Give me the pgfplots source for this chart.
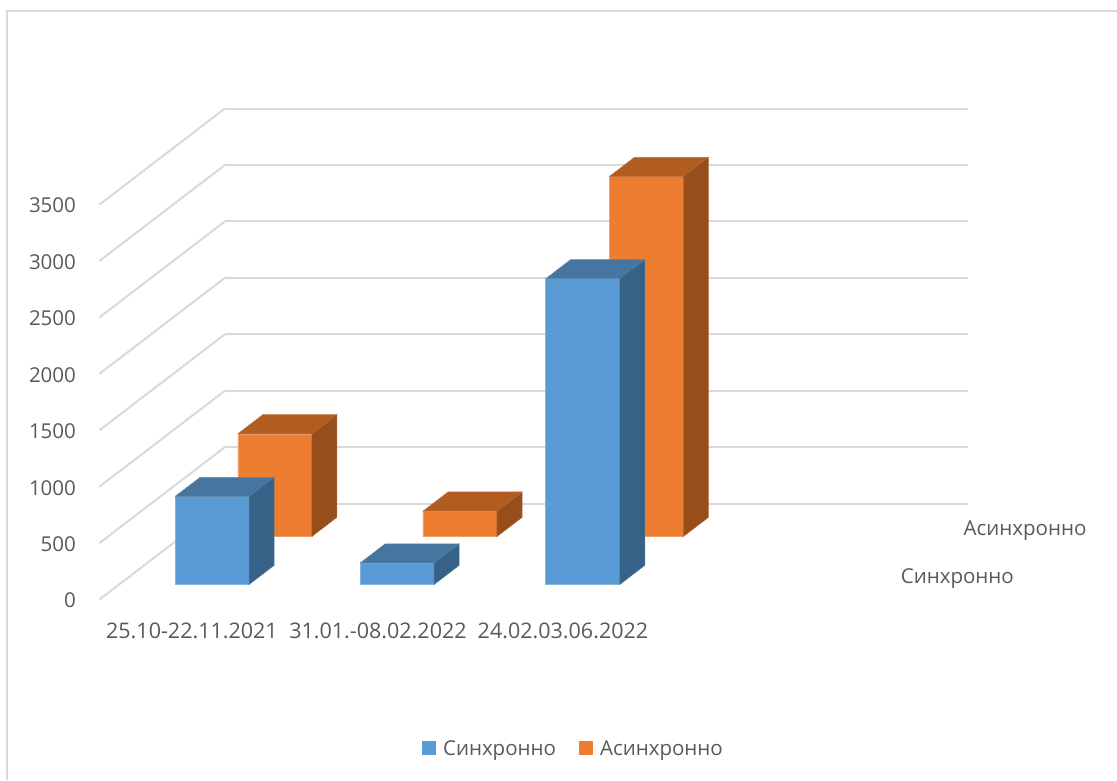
\documentclass[border=0pt]{standalone}
\usepackage{fontspec}
\setmainfont{Open Sans}
\usepackage{pgfplots}
\pgfplotsset{compat=1.18}
\definecolor{txt}{HTML}{595959}
\definecolor{gridc}{HTML}{D9D9D9}
\definecolor{bluef}{HTML}{5B9BD5}
\definecolor{bluet}{HTML}{4675A0}
\definecolor{blues}{HTML}{376288}
\definecolor{orf}{HTML}{ED7D31}
\definecolor{ort}{HTML}{B25D20}
\definecolor{ors}{HTML}{974E1B}
% one 3-D column: colours front/top/side, x0, x1, d0, d1, value
\newcommand{\column}[8]{%
  \addplot3[forget plot, draw=#1!75!white, line width=.5pt, fill=#1] coordinates {(#4,#6,0) (#5,#6,0) (#5,#6,#8) (#4,#6,#8) (#4,#6,0)};
  \addplot3[forget plot, draw=#2!85!white, line width=.5pt, fill=#2] coordinates {(#4,#6,#8) (#5,#6,#8) (#5,#7,#8) (#4,#7,#8) (#4,#6,#8)};
  \addplot3[forget plot, draw=#3!85!white, line width=.5pt, fill=#3] coordinates {(#5,#6,0) (#5,#7,0) (#5,#7,#8) (#5,#6,#8) (#5,#6,0)};
}
\begin{document}
\begin{tikzpicture}[x=1pt,y=1pt]
\useasboundingbox (0,0) rectangle (1117,780);
\draw[gridc, line width=2pt] (7,0) -- (7,769) -- (1117,769);
\begin{axis}[
    at={(-136.5,188)}, anchor=origin,
    x={(1pt,0pt)}, y={(125.5pt,96pt)}, z={(0pt,0.11286pt)},
    xmin=0, xmax=743, ymin=0, ymax=1, zmin=0, zmax=3500,
    clip=false,
    axis line style={draw=none},
    tick style={draw=none},
    major grid style={gridc, line width=2pt},
    ztick={0,500,...,3500}, zmajorgrids=true,
    xmajorgrids=false, ymajorgrids=false,
    xtick={92.5,278.5,463.5},
    xticklabels={25.10-22.11.2021,31.01.-08.02.2022,24.02.03.06.2022},
    ytick=\empty,
    /pgf/number format/assume math mode=true,
    /pgf/number format/1000 sep={},
    tick label style={font=\fontsize{20.5}{24}\selectfont, text=txt},
    x tick label style={anchor=center, yshift=-31pt, font=\fontsize{21.5}{24}\selectfont},
    z tick label style={anchor=east, xshift=-20pt, yshift=-1pt},
    legend style={at={(axis cs:474,0,-1320)}, anchor=center, draw=none, fill=none,
      legend columns=2, font=\fontsize{20.5}{24}\selectfont, text=txt,
      /tikz/every even column/.append style={column sep=21pt}},
    legend cell align=left,
    legend image code/.code={\fill[#1, draw=none] (0pt,-7pt) rectangle (14pt,7pt);},
]
\addlegendimage{fill=bluef}
\addlegendentry{\hspace{5pt}Синхронно}
\addlegendimage{fill=orf}
\addlegendentry{\hspace{5pt}Асинхронно}
% Асинхронно
\column{orf}{ort}{ors}{56}{130}{0.656}{0.856}{910}
\column{orf}{ort}{ors}{241.2}{315.2}{0.656}{0.856}{225}
\column{orf}{ort}{ors}{427.5}{501.5}{0.656}{0.856}{3190}
% Синхронно
\column{bluef}{bluet}{blues}{56}{130}{0.156}{0.356}{780}
\column{bluef}{bluet}{blues}{241}{315}{0.156}{0.356}{190}
\column{bluef}{bluet}{blues}{426.7}{500.7}{0.156}{0.356}{2710}
% series names at the depth axis
\node[anchor=west, font=\fontsize{20.5}{24}\selectfont, text=txt, xshift=23.5pt, yshift=-3pt] at (axis cs:743,0.25,0) {Синхронно};
\node[anchor=west, font=\fontsize{20.5}{24}\selectfont, text=txt, xshift=23.5pt, yshift=-3pt] at (axis cs:743,0.75,0) {Асинхронно};
\end{axis}
\end{tikzpicture}
\end{document}
